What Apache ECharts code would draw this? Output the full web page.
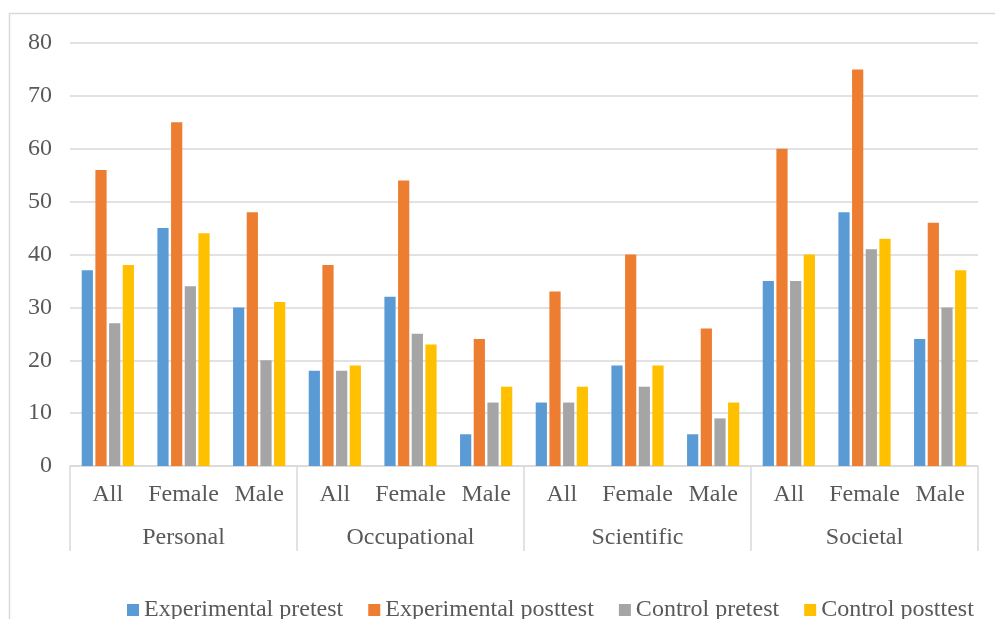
<!DOCTYPE html>
<html>
<head>
<meta charset="utf-8">
<script src="https://cdn.jsdelivr.net/npm/echarts@6/dist/echarts.min.js"></script>
<style>html,body{margin:0;padding:0;background:#fff}#c{width:995px;height:619px}</style>
</head>
<body>
<div id="c"></div>
<script>
const subCategories = ['All','Female','Male','All','Female','Male','All','Female','Male','All','Female','Male'];
const groups = ['Personal','Occupational','Scientific','Societal'];
const seriesNames = ['Experimental pretest','Experimental posttest','Control pretest','Control posttest'];
const expPre  = [37,45,30, 18,32,6, 12,19,6, 35,48,24];
const expPost = [56,65,48, 38,54,24, 33,40,26, 60,75,46];
const ctlPre  = [27,34,20, 18,25,12, 12,15,9, 35,41,30];
const ctlPost = [38,44,31, 19,23,15, 15,19,12, 40,43,37];
const yTicks = [0,10,20,30,40,50,60,70,80];

const colors = ['#5B9BD5','#ED7D31','#A5A5A5','#FFC000'];
const font = 'Liberation Serif, Times New Roman, serif';
const txt = '#595959';
const lineC = '#d9d9d9';

const chart = echarts.init(document.getElementById('c'));
const values = [expPre, expPost, ctlPre, ctlPost];
chart.setOption({
  backgroundColor: '#fff',
  animation: false,
  color: colors,
  graphic: [{
    type: 'rect', shape: {x: 9.5, y: 13.5, width: 1000, height: 700},
    style: {fill: 'none', stroke: lineC, lineWidth: 1.5}, silent: true
  }],
  grid: {left: 70, right: 17, top: 43, bottom: 153},
  legend: {
    data: seriesNames, left: 122, top: 593,
    itemWidth: 12, itemHeight: 12, itemGap: 25, icon: 'rect',
    textStyle: {fontFamily: font, fontSize: 24, color: txt}
  },
  xAxis: [{
    type: 'category', data: subCategories, position: 'bottom',
    axisLine: {show: true, lineStyle: {color: lineC, width: 1.5}},
    axisTick: {show: false},
    axisLabel: {interval: 0, margin: 17, fontFamily: font, fontSize: 24, color: txt}
  }, {
    type: 'category', data: groups, position: 'bottom',
    axisLine: {show: false},
    axisTick: {show: true, length: 85, interval: 0, lineStyle: {color: lineC, width: 1.5}},
    axisLabel: {interval: 0, margin: 60, fontFamily: font, fontSize: 24, color: txt}
  }],
  yAxis: {
    type: 'value', min: yTicks[0], max: yTicks[yTicks.length-1], interval: 10,
    axisLine: {show: false}, axisTick: {show: false},
    splitLine: {lineStyle: {color: lineC, width: 1.5}},
    axisLabel: {margin: 18, fontFamily: font, fontSize: 24, color: txt}
  },
  series: seriesNames.map((n, i) => ({
    name: n, type: 'bar', xAxisIndex: 0, data: values[i],
    barGap: '22%', barCategoryGap: '31%',
    itemStyle: {color: colors[i]}
  }))
});
</script>
</body>
</html>
